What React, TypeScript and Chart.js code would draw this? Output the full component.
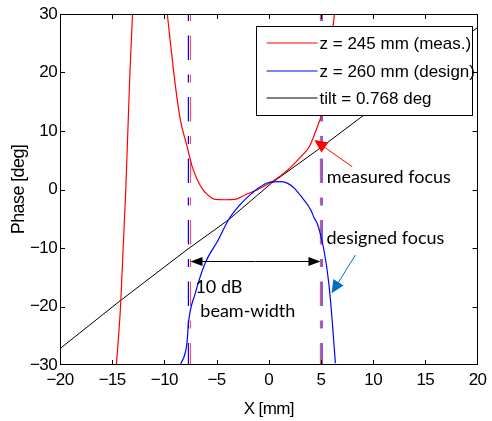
import React, { useEffect, useRef } from "react";
import { Chart, registerables } from "chart.js";

Chart.register(...registerables);

// ---- data ----
const xTicks = [-20, -15, -10, -5, 0, 5, 10, 15, 20];
const yTicks = [-30, -20, -10, 0, 10, 20, 30];

const measuredX = [-14.6, -14.2, -13.95, -13.7, -13.5, -13.3, -13.05, -11.4, -9.72, -9.41, -8.93, -8.46, -7.83, -7.35, -6.9, -6.4, -5.93, -5.5, -5.13, -4.2, -3.24, -2.29, -1.02, 0.56, 1.82, 3.08, 3.88, 4.36, 4.83, 5.05, 5.5, 6.0, 6.3];
const measuredY = [-30, -20, -10, 0, 10, 20, 30, null, 30, 24.9, 17.5, 11.8, 7.4, 4.0, 1.9, 0.2, -0.8, -1.4, -1.68, -1.75, -1.68, -0.94, 0.03, 1.62, 3.33, 5.61, 7.32, 9.32, 11.59, 12.7, 19.0, 25.6, 30];

const designX = [-8.47, -7.84, -7.68, -7.05, -6.1, -4.83, -3.87, -2.92, -1.98, -1.02, -0.08, 1.19, 1.82, 2.46, 3.24, 4.03, 4.36, 4.64, 5.28, 5.75, 6.07, 6.38];
const designY = [-30, -26.3, -22.6, -17.8, -12.6, -8.6, -5.21, -2.93, -1.22, 0.2, 1.16, 1.33, 1.05, 0.2, -1.5, -3.5, -4.92, -5.8, -10.3, -16.0, -22.3, -29.7];

const tiltX = [-20, -14.15, -7.84, -3.87, 0.24, 4.67, 9.1, 20];
const tiltY = [-27.2, -18.9, -10.3, -5.2, 1.05, 6.75, 12.7, 27.7];

const measuredFocusX = [-7.5, 4.95];
const designFocusX = [-7.7, 5.1];

const seriesLabels = ["z = 245 mm (meas.)", "z = 260 mm (design)", "tilt = 0.768 deg"];
const seriesColors = ["#ff0000", "#0000ff", "#000000"];

const beamWidthY = -12.3;
const beamText1 = { x: -7.03, y: -17.74, text: "10 dB" };
const beamText2 = { x: -6.56, y: -21.74, text: "beam-width" };
const measText = { x: 5.55, y: 1.1, text: "measured focus" };
const desText = { x: 5.52, y: -9.37, text: "designed focus" };
const measArrow = { x0: 7.99, y0: 3.9, x1: 4.36, y1: 8.46 };
const desArrow = { x0: 8.3, y0: -11.2, x1: 6.02, y1: -17.74 };

const TICK_FONT = "'Liberation Sans', Arial, sans-serif";
const NOTE_FONT = "Lato, 'Open Sans', sans-serif";

const pts = (xs: number[], ys: (number | null)[]) => xs.map((x, i) => ({ x, y: ys[i] }));
const minus = (v: number) => (v < 0 ? "\u2212" + Math.abs(v) : String(v));

function arrow(ctx: CanvasRenderingContext2D, x0: number, y0: number, x1: number, y1: number, color: string, len = 12, half = 5) {
  const a = Math.atan2(y1 - y0, x1 - x0);
  ctx.save();
  ctx.strokeStyle = color;
  ctx.fillStyle = color;
  ctx.lineWidth = 1;
  ctx.beginPath();
  ctx.moveTo(x0, y0);
  ctx.lineTo(x1 - Math.cos(a) * len * 0.5, y1 - Math.sin(a) * len * 0.5);
  ctx.stroke();
  ctx.beginPath();
  ctx.moveTo(x1, y1);
  ctx.lineTo(x1 - Math.cos(a) * len - Math.sin(a) * half, y1 - Math.sin(a) * len + Math.cos(a) * half);
  ctx.lineTo(x1 - Math.cos(a) * len + Math.sin(a) * half, y1 - Math.sin(a) * len - Math.cos(a) * half);
  ctx.closePath();
  ctx.fill();
  ctx.restore();
}

const framePlugin = {
  id: "frame",
  beforeDraw(chart: any) {
    (chart.ctx as any).letterSpacing = "-0.6px";
  },
  beforeDatasetsDraw(chart: any) {
    (chart.ctx as any).letterSpacing = "0px";
  },
  afterDraw(chart: any) {
    const { ctx, chartArea: ca, scales } = chart;
    const xs = scales.x, ys = scales.y;
    ctx.save();
    (ctx as any).letterSpacing = "0px";
    ctx.strokeStyle = "#000";
    ctx.lineWidth = 1;
    ctx.strokeRect(Math.round(ca.left) + 0.5, Math.round(ca.top) + 0.5, Math.round(ca.right - ca.left) - 1, Math.round(ca.bottom - ca.top) - 1);
    ctx.beginPath();
    const tl = 5;
    xTicks.slice(1, -1).forEach((v) => {
      const px = Math.round(xs.getPixelForValue(v)) + 0.5;
      ctx.moveTo(px, ca.bottom);
      ctx.lineTo(px, ca.bottom - tl);
      ctx.moveTo(px, ca.top);
      ctx.lineTo(px, ca.top + tl);
    });
    yTicks.slice(1, -1).forEach((v) => {
      const py = Math.round(ys.getPixelForValue(v)) + 0.5;
      ctx.moveTo(ca.left, py);
      ctx.lineTo(ca.left + tl, py);
      ctx.moveTo(ca.right, py);
      ctx.lineTo(ca.right - tl, py);
    });
    ctx.stroke();

    // annotations
    const X = (v: number) => xs.getPixelForValue(v);
    const Y = (v: number) => ys.getPixelForValue(v);
    const by = Math.round(Y(beamWidthY)) + 0.5;
    const bx0 = X(measuredFocusX[0]);
    const bx1 = X(measuredFocusX[1]);
    const mid = (bx0 + bx1) / 2;
    arrow(ctx, mid, by, bx0, by, "#000", 12, 4.5);
    arrow(ctx, mid, by, bx1, by, "#000", 12, 4.5);
    arrow(ctx, X(measArrow.x0), Y(measArrow.y0), X(measArrow.x1), Y(measArrow.y1), "#ff0000", 13, 6);
    arrow(ctx, X(desArrow.x0), Y(desArrow.y0), X(desArrow.x1), Y(desArrow.y1), "#0070c0", 13, 6);

    ctx.fillStyle = "#000";
    ctx.font = `18px ${NOTE_FONT}`;
    ctx.textAlign = "left";
    ctx.textBaseline = "alphabetic";
    [beamText1, beamText2, measText, desText].forEach((t) => {
      ctx.fillText(t.text, X(t.x), Y(t.y));
    });

    // legend
    const lx = ca.right - 222, ly = ca.top + 12, lw = 216, lh = 89;
    ctx.fillStyle = "#fff";
    ctx.fillRect(Math.round(lx), Math.round(ly), lw, lh);
    ctx.strokeStyle = "#000";
    ctx.strokeRect(Math.round(lx) + 0.5, Math.round(ly) + 0.5, lw, lh);
    ctx.font = `17px 'Liberation Sans', Arial, sans-serif`;
    ctx.textBaseline = "middle";
    chart.data.datasets.slice(0, 3).forEach((ds: any, i: number) => {
      const ry = Math.round(ly + 17 + i * 27.5);
      ctx.strokeStyle = seriesColors[i];
      ctx.lineWidth = 1;
      ctx.beginPath();
      ctx.moveTo(lx + 11, ry);
      ctx.lineTo(lx + 62, ry);
      ctx.stroke();
      ctx.fillStyle = "#000";
      ctx.fillText(ds.label, lx + 64, ry + 1.5);
    });
    ctx.restore();
  },
};

export default function App() {
  const ref = useRef<HTMLCanvasElement | null>(null);
  useEffect(() => {
    if (!ref.current) return;
    const dash = [8, 14.5, 24.5, 14.5];
    const vline = (x: number, color: string) => ({
      label: "",
      data: [{ x, y: 30 }, { x, y: -30 }],
      borderColor: color,
      borderWidth: 1.2,
      borderDash: dash,
      borderDashOffset: 1,
      pointRadius: 0,
      fill: false,
    });
    const chart = new Chart(ref.current, {
      type: "line",
      data: {
        datasets: [
          { label: seriesLabels[0], data: pts(measuredX, measuredY), borderColor: seriesColors[0], borderWidth: 1.2, pointRadius: 0, cubicInterpolationMode: "monotone", spanGaps: false, order: 2 },
          { label: seriesLabels[1], data: pts(designX, designY), borderColor: seriesColors[1], borderWidth: 1.2, pointRadius: 0, cubicInterpolationMode: "monotone", order: 1 },
          { label: seriesLabels[2], data: pts(tiltX, tiltY), borderColor: seriesColors[2], borderWidth: 1, pointRadius: 0, tension: 0, order: 3 },
          { ...vline(measuredFocusX[0], "#ff5050"), order: 5 },
          { ...vline(measuredFocusX[1], "#ff5050"), order: 5 },
          { ...vline(designFocusX[0], "#0000ff"), order: 4 },
          { ...vline(designFocusX[1], "#0000ff"), order: 4 },
        ] as any,
      },
      options: {
        animation: false,
        responsive: false,
        devicePixelRatio: 1,
        parsing: false as any,
        layout: { padding: { top: 14, right: 10, left: 0, bottom: 0 } },
        plugins: { legend: { display: false }, tooltip: { enabled: false } },
        scales: {
          x: {
            type: "linear",
            min: -20,
            max: 20,
            grid: { display: false, drawTicks: false },
            border: { display: false },
            afterBuildTicks: (s: any) => { s.ticks = xTicks.map((v) => ({ value: v })); },
            afterFit: (s: any) => { s.height = 56; },
            ticks: { padding: 5, color: "#000", font: { family: TICK_FONT, size: 17 }, callback: (v: any) => minus(Number(v)), maxRotation: 0 },
            title: { display: true, text: "X [mm]", color: "#000", font: { family: "'Liberation Sans', Arial, sans-serif", size: 17 }, padding: { top: 0, bottom: 1 } },
          },
          y: {
            type: "linear",
            min: -30,
            max: 30,
            grid: { display: false, drawTicks: false },
            border: { display: false },
            afterBuildTicks: (s: any) => { s.ticks = yTicks.map((v) => ({ value: v })); },
            afterFit: (s: any) => { s.width = 60; },
            ticks: { padding: 3, color: "#000", font: { family: TICK_FONT, size: 17 }, callback: (v: any) => minus(Number(v)) },
            title: { display: true, text: "Phase [deg]", color: "#000", font: { family: "'Liberation Sans', Arial, sans-serif", size: 18 }, padding: { top: 8, bottom: 0 } },
          },
        },
      },
      plugins: [framePlugin],
    });
    return () => chart.destroy();
  }, []);
  return (
    <div style={{ position: "absolute", left: 0, top: 0, width: 492, height: 421, background: "#fff" }}>
      <canvas ref={ref} width={492} height={421} style={{ width: 492, height: 421 }} />
    </div>
  );
}
